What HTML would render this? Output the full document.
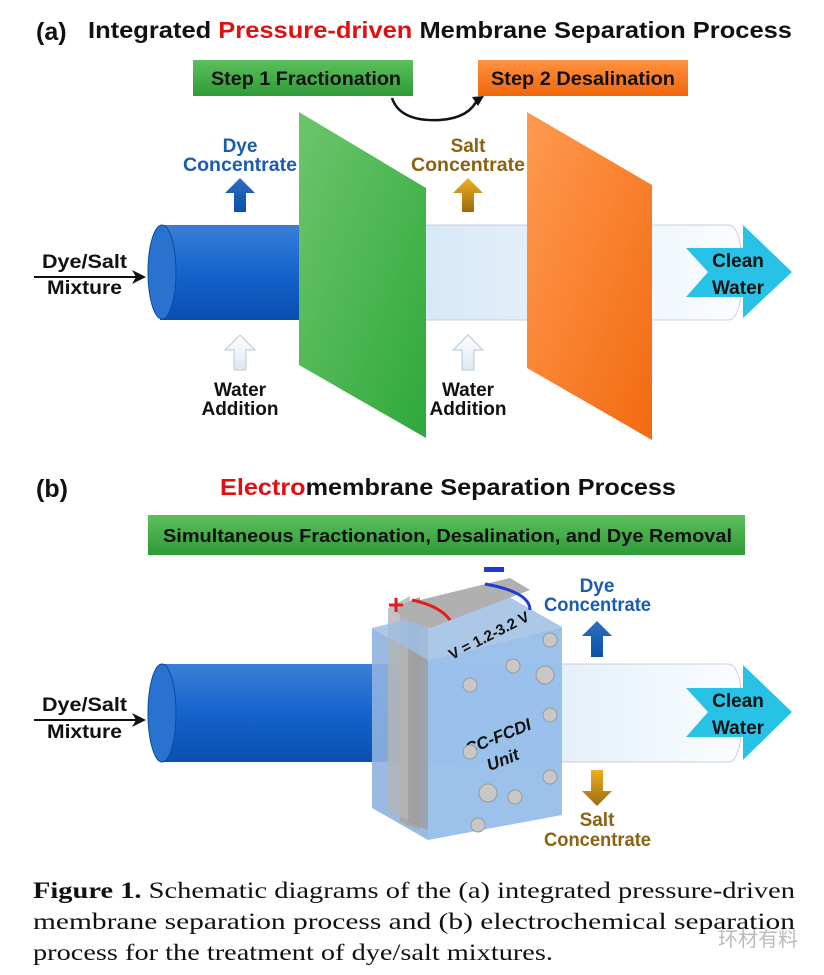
<!DOCTYPE html>
<html><head><meta charset="utf-8"><style>
body{margin:0;background:#fff}
svg{display:block}
.b{font-family:"Liberation Sans","DejaVu Sans",sans-serif;font-weight:bold}
</style></head><body>
<svg width="824" height="975" viewBox="0 0 824 975" xmlns="http://www.w3.org/2000/svg">
<defs>
<linearGradient id="blue" x1="0" y1="0" x2="0" y2="1"><stop offset="0" stop-color="#3a7fd6"/><stop offset="0.5" stop-color="#1563cc"/><stop offset="1" stop-color="#0a4fb0"/></linearGradient>
<linearGradient id="light" x1="0" y1="0" x2="1" y2="0"><stop offset="0" stop-color="#cfe4f6"/><stop offset="1" stop-color="#fbfdff"/></linearGradient>
<linearGradient id="green" x1="0" y1="0" x2="1" y2="1"><stop offset="0" stop-color="#6cc66c"/><stop offset="1" stop-color="#2fa83a"/></linearGradient>
<linearGradient id="orange" x1="0" y1="0" x2="1" y2="1"><stop offset="0" stop-color="#ff9a50"/><stop offset="1" stop-color="#f26a10"/></linearGradient>
<linearGradient id="gbar" x1="0" y1="0" x2="0" y2="1"><stop offset="0" stop-color="#5cc05c"/><stop offset="1" stop-color="#2e9a38"/></linearGradient>
<linearGradient id="obar" x1="0" y1="0" x2="0" y2="1"><stop offset="0" stop-color="#ff9240"/><stop offset="1" stop-color="#f0660a"/></linearGradient>
<linearGradient id="salt" x1="0" y1="0" x2="0" y2="1"><stop offset="0" stop-color="#f0b020"/><stop offset="1" stop-color="#9a6a10"/></linearGradient>
<linearGradient id="dye" x1="0" y1="0" x2="0" y2="1"><stop offset="0" stop-color="#2d6fc0"/><stop offset="1" stop-color="#0a50a8"/></linearGradient>
<linearGradient id="wat" x1="0" y1="0" x2="0" y2="1"><stop offset="0" stop-color="#fff"/><stop offset="1" stop-color="#dbe9f6"/></linearGradient>
</defs>

<!-- Panel a -->
<text x="36" y="40" class="b" font-size="25" fill="#111">(a)</text>
<text x="88" y="38" class="b" font-size="23" fill="#111" textLength="704" lengthAdjust="spacingAndGlyphs">Integrated <tspan fill="#e01010">Pressure-driven</tspan> Membrane Separation Process</text>
<rect x="193" y="60" width="220" height="36" fill="url(#gbar)"/>
<text x="211" y="85" class="b" font-size="19" fill="#111" textLength="190" lengthAdjust="spacingAndGlyphs">Step 1 Fractionation</text>
<rect x="478" y="60" width="210" height="36" fill="url(#obar)"/>
<text x="491" y="85" class="b" font-size="19" fill="#111" textLength="184" lengthAdjust="spacingAndGlyphs">Step 2 Desalination</text>
<path d="M392 98 Q400 122 440 120 Q470 118 478 98" fill="none" stroke="#111" stroke-width="2.5"/>
<polygon points="472,97 484,96 478,106" fill="#111"/>

<path d="M360 225 L728 225 Q742 225 742 272 Q742 320 728 320 L360 320 Z" fill="url(#light)" stroke="#ccd" stroke-width="1"/>
<path d="M160 225 L355 225 Q368 225 368 272 Q368 320 355 320 L160 320 Z" fill="url(#blue)"/>
<ellipse cx="162" cy="272" rx="14" ry="47" fill="#2a72d0" stroke="#0d4aa0" stroke-width="1"/>
<polygon points="299,112 426,188 426,438 299,365" fill="url(#green)"/>
<polygon points="527,112 652,185 652,440 527,368" fill="url(#orange)"/>
<polygon points="686,248 743,248 743,225 792,272 743,318 743,297 686,297 708,272" fill="#28c2e6"/>
<text x="738" y="267" class="b" font-size="19" text-anchor="middle" fill="#111">Clean</text>
<text x="738" y="294" class="b" font-size="19" text-anchor="middle" fill="#111">Water</text>
<text x="42" y="268" class="b" font-size="19" fill="#111" textLength="85" lengthAdjust="spacingAndGlyphs">Dye/Salt</text>
<text x="47" y="294" class="b" font-size="19" fill="#111" textLength="75" lengthAdjust="spacingAndGlyphs">Mixture</text>
<line x1="34" y1="277" x2="140" y2="277" stroke="#111" stroke-width="2"/>
<polygon points="146,277 132,270 136,277 132,284" fill="#111"/>
<text x="240" y="152" class="b" font-size="19" text-anchor="middle" fill="#1a5cb0">Dye</text>
<text x="183" y="171" class="b" font-size="19" fill="#1a5cb0" textLength="114" lengthAdjust="spacingAndGlyphs">Concentrate</text>
<polygon points="240,178 255,193 246,193 246,212 234,212 234,193 225,193" fill="url(#dye)"/>
<text x="468" y="152" class="b" font-size="19" text-anchor="middle" fill="#8a6210">Salt</text>
<text x="411" y="171" class="b" font-size="19" fill="#8a6210" textLength="114" lengthAdjust="spacingAndGlyphs">Concentrate</text>
<polygon points="468,178 483,193 474,193 474,212 462,212 462,193 453,193" fill="url(#salt)"/>
<polygon points="240,335 255,350 246,350 246,370 234,370 234,350 225,350" fill="url(#wat)" stroke="#b8c8d8"/>
<text x="240" y="396" class="b" font-size="19" text-anchor="middle" fill="#111">Water</text>
<text x="240" y="415" class="b" font-size="19" text-anchor="middle" fill="#111">Addition</text>
<polygon points="468,335 483,350 474,350 474,370 462,370 462,350 453,350" fill="url(#wat)" stroke="#b8c8d8"/>
<text x="468" y="396" class="b" font-size="19" text-anchor="middle" fill="#111">Water</text>
<text x="468" y="415" class="b" font-size="19" text-anchor="middle" fill="#111">Addition</text>

<!-- Panel b -->
<text x="36" y="497" class="b" font-size="25" fill="#111">(b)</text>
<text x="220" y="495" class="b" font-size="23" fill="#111" textLength="456" lengthAdjust="spacingAndGlyphs"><tspan fill="#e01010">Electro</tspan>membrane Separation Process</text>
<rect x="148" y="515" width="597" height="40" fill="url(#gbar)"/>
<text x="163" y="542" class="b" font-size="18.5" fill="#111" textLength="569" lengthAdjust="spacingAndGlyphs">Simultaneous Fractionation, Desalination, and Dye Removal</text>

<path d="M400 664 L728 664 Q742 664 742 712 Q742 762 728 762 L400 762 Z" fill="url(#light)" stroke="#ccd" stroke-width="1"/>
<path d="M160 664 L400 664 L400 762 L160 762 Z" fill="url(#blue)"/>
<ellipse cx="162" cy="713" rx="14" ry="49" fill="#2a72d0" stroke="#0d4aa0" stroke-width="1"/>
<polygon points="686,688 743,688 743,665 792,712 743,760 743,737 686,737 708,712" fill="#28c2e6"/>
<text x="738" y="707" class="b" font-size="19" text-anchor="middle" fill="#111">Clean</text>
<text x="738" y="734" class="b" font-size="19" text-anchor="middle" fill="#111">Water</text>
<text x="42" y="711" class="b" font-size="19" fill="#111" textLength="85" lengthAdjust="spacingAndGlyphs">Dye/Salt</text>
<text x="47" y="738" class="b" font-size="19" fill="#111" textLength="75" lengthAdjust="spacingAndGlyphs">Mixture</text>
<line x1="34" y1="720" x2="140" y2="720" stroke="#111" stroke-width="2"/>
<polygon points="146,720 132,713 136,720 132,727" fill="#111"/>

<text x="597" y="592" class="b" font-size="19" text-anchor="middle" fill="#1a5cb0">Dye</text>
<text x="544" y="611" class="b" font-size="19" fill="#1a5cb0" textLength="107" lengthAdjust="spacingAndGlyphs">Concentrate</text>
<polygon points="597,621 612,636 603,636 603,657 591,657 591,636 582,636" fill="url(#dye)"/>
<polygon points="597,806 612,791 603,791 603,770 591,770 591,791 582,791" fill="url(#salt)"/>
<text x="597" y="826" class="b" font-size="19" text-anchor="middle" fill="#8a6210">Salt</text>
<text x="544" y="846" class="b" font-size="19" fill="#8a6210" textLength="107" lengthAdjust="spacingAndGlyphs">Concentrate</text>

<!-- CC-FCDI unit -->
<polygon points="372,628 428,660 428,840 372,808" fill="#8fb3e0" opacity="0.9"/>
<polygon points="400,605 420,597 420,830 400,822" fill="#a8a8a8"/>
<polygon points="388,608 410,596 410,820 388,812" fill="#b4b4b4" opacity="0.8"/>
<polygon points="408,604 428,598 428,830 408,822" fill="#9e9e9e" opacity="0.8"/>
<polygon points="372,628 428,660 562,627 506,595" fill="#9fbde3" opacity="0.85"/>
<polygon points="395,610 420,600 510,578 530,590 430,628 405,620" fill="#b0b0b0"/>
<polygon points="428,660 562,627 562,815 428,840" fill="#94bde9" opacity="0.92"/>
<text transform="translate(452,660) rotate(-27)" class="b" font-size="15" fill="#111">V = 1.2-3.2 V</text>
<text transform="translate(500,742) rotate(-22)" class="b" font-size="17" font-style="italic" text-anchor="middle" fill="#111">CC-FCDI</text>
<text transform="translate(505,765) rotate(-22)" class="b" font-size="17" font-style="italic" text-anchor="middle" fill="#111">Unit</text>
<g fill="#c8c8c8" stroke="#999" stroke-width="1">
<circle cx="470" cy="685" r="7"/><circle cx="513" cy="666" r="7"/><circle cx="550" cy="640" r="7"/>
<circle cx="545" cy="675" r="9"/><circle cx="550" cy="715" r="7"/><circle cx="470" cy="752" r="7"/>
<circle cx="550" cy="777" r="7"/><circle cx="488" cy="793" r="9"/><circle cx="515" cy="797" r="7"/><circle cx="478" cy="825" r="7"/>
</g>
<path d="M412 600 Q440 606 450 620" fill="none" stroke="#e02020" stroke-width="3"/>
<path d="M485 584 Q530 592 530 610" fill="none" stroke="#1a3cd8" stroke-width="3"/>
<text x="396" y="614" class="b" font-size="28" text-anchor="middle" fill="#e02020">+</text>
<rect x="484" y="567" width="20" height="5" fill="#1a3cd8"/>

<!-- caption -->
<text x="33" y="898" font-family="Liberation Serif,serif" font-size="23" fill="#111" textLength="762" lengthAdjust="spacingAndGlyphs"><tspan font-weight="bold">Figure 1.</tspan> Schematic diagrams of the (a) integrated pressure-driven</text>
<text x="33" y="929" font-family="Liberation Serif,serif" font-size="23" fill="#111" textLength="762" lengthAdjust="spacingAndGlyphs">membrane separation process and (b) electrochemical separation</text>
<text x="33" y="960" font-family="Liberation Serif,serif" font-size="23" fill="#111" textLength="520" lengthAdjust="spacingAndGlyphs">process for the treatment of dye/salt mixtures.</text>
<text x="718" y="946" font-family="Liberation Sans,Noto Sans CJK SC,sans-serif" font-size="20" fill="#bbb">环材有料</text>
</svg>
</body></html>
